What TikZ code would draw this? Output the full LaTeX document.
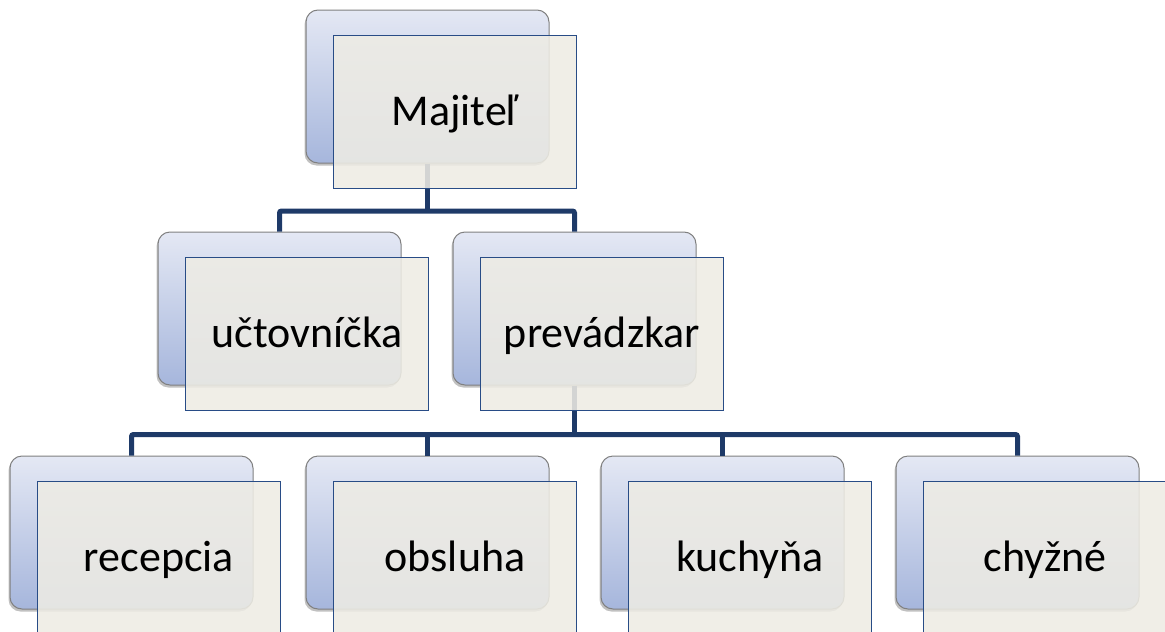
\documentclass[tikz,border=0pt]{standalone}
\usepackage{fontspec}
\setmainfont{Carlito}
\usetikzlibrary{shadows,calc}
\definecolor{connc}{RGB}{30,58,104}
\definecolor{frontfill}{RGB}{238,236,228}
\definecolor{frontdraw}{RGB}{40,76,134}
\definecolor{backtop}{RGB}{228,232,244}
\definecolor{backbot}{RGB}{166,182,220}
\definecolor{backdraw}{RGB}{128,128,128}
\tikzset{
  backbox/.style={draw=backdraw, line width=1pt, rounded corners=12pt,
    minimum width=243pt, minimum height=153pt, inner sep=0pt,
    top color=backtop, bottom color=backbot,
    drop shadow={shadow xshift=-1.5pt, shadow yshift=-2.5pt, opacity=0.35, fill=black!70}},
  frontbox/.style={draw=frontdraw, line width=1.8pt, fill=frontfill, fill opacity=0.87,
    text opacity=1, minimum width=243pt, minimum height=153pt, inner sep=0pt,
    text height=31pt, text depth=4pt, font=\fontsize{44}{52}\selectfont, text=black},
  conn/.style={draw=connc, line width=5pt, rounded corners=2pt}
}
\begin{document}
\begin{tikzpicture}[x=1pt,y=-1pt]
\useasboundingbox (0,0) rectangle (1165,632);
\clip (0,0) rectangle (1165,632);
% back boxes
\node[backbox] (mb) at (427.5,86.5) {};
\node[backbox] (ub) at (279.5,308.5) {};
\node[backbox] (pb) at (574.5,308.5) {};
\node[backbox] (rb) at (131.5,532.5) {};
\node[backbox] (ob) at (427.5,532.5) {};
\node[backbox] (kb) at (722.5,532.5) {};
\node[backbox] (cb) at (1017.5,532.5) {};
% connectors
\coordinate (j1) at (427.5,211);
\coordinate (j2) at (574.5,434.5);
\draw[conn] (mb.south) -- (j1);
\draw[conn] (ub.north) |- (j1) -| (pb.north);
\draw[conn] (pb.south) -- (j2);
\draw[conn] (rb.north) |- (j2) -| (cb.north);
\draw[conn] (ob.north) -- (ob.north |- j2);
\draw[conn] (kb.north) -- (kb.north |- j2);
% front boxes
\node[frontbox] (mf) at (455,112) {Majiteľ};
\node[frontbox] (uf) at (307,334) {učtovníčka};
\node[frontbox] (pf) at (602,334) {prevádzkar};
\node[frontbox] (rf) at (159,558) {recepcia};
\node[frontbox] (of) at (455,558) {obsluha};
\node[frontbox] (kf) at (750,558) {kuchyňa};
\node[frontbox] (cf) at (1045,558) {chyžné};
\end{tikzpicture}
\end{document}
